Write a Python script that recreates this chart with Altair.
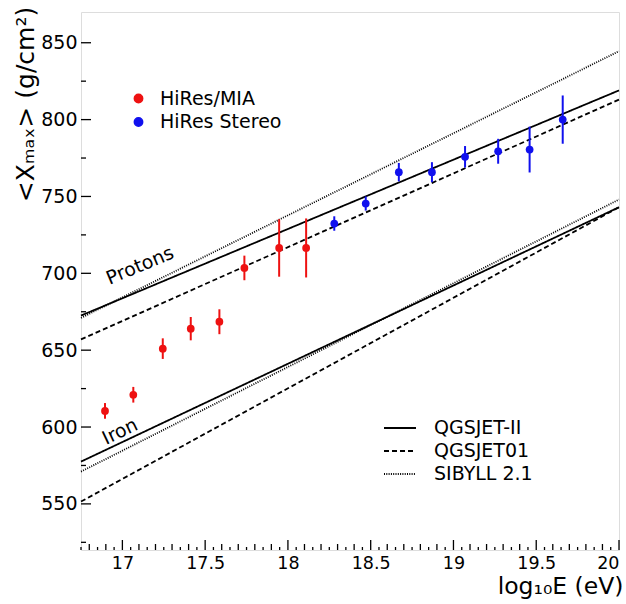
import altair as alt
import pandas as pd

# ---------------- data ----------------
mia_x = [16.895, 17.066, 17.244, 17.413, 17.586, 17.737, 17.947, 18.11]
mia_y = [610.5, 621.0, 651.0, 664.0, 668.5, 703.5, 716.5, 716.5]
mia_err = [5.1, 5.1, 6.7, 7.6, 8.1, 8.0, 18.7, 19.2]

stereo_x = [18.28, 18.47, 18.67, 18.87, 19.07, 19.27, 19.46, 19.66]
stereo_y = [732.4, 745.4, 765.8, 765.8, 775.8, 779.4, 780.5, 800.0]
stereo_err = [4.7, 4.6, 6.0, 6.5, 7.0, 8.1, 14.9, 15.7]

series_names = ["HiRes/MIA", "HiRes Stereo"]
series_colors = ["#ee1111", "#1010ee"]

model_names = ["QGSJET-II", "QGSJET01", "SIBYLL 2.1"]
model_dashes = [[1, 0], [5, 3], [1, 1.3]]
line_x = [16.75, 20.0]
proton_start = [672.5, 657.0, 671.0]
proton_end = [819.0, 813.0, 844.5]
iron_start = [577.5, 551.5, 571.0]
iron_end = [743.0, 743.0, 748.0]

label_text = ["Protons", "Iron"]
label_x = [17.107, 16.986]
label_y = [705.0, 597.0]
label_angle = [337.3, 334.7]

x_major = [17, 17.5, 18, 18.5, 19, 19.5, 20]
x_minor = [round(16.8 + 0.1 * i, 2) for i in range(33) if round(16.8 + 0.1 * i, 2) not in x_major]
x_tiny = [round(16.75 + 0.1 * i, 2) for i in range(33)]
y_major = [550, 600, 650, 700, 750, 800, 850]
y_minor = [525, 575, 625, 675, 725, 775, 825]

FONT = "DejaVu Sans"
W, H = 538, 538

# ---------------- tables ----------------
pts = pd.DataFrame({
    "x": mia_x + stereo_x,
    "y": mia_y + stereo_y,
    "err": mia_err + stereo_err,
    "series": [series_names[0]] * len(mia_x) + [series_names[1]] * len(stereo_x),
})
pts["lo"] = pts["y"] - pts["err"]
pts["hi"] = pts["y"] + pts["err"]

rows = []
for i, m in enumerate(model_names):
    for comp, ys in (("Protons", (proton_start[i], proton_end[i])), ("Iron", (iron_start[i], iron_end[i]))):
        for xv, yv in zip(line_x, ys):
            rows.append({"x": xv, "y": yv, "model": m, "comp": comp})
lines_df = pd.DataFrame(rows)

labels_df = pd.DataFrame({"text": label_text, "x": label_x, "y": label_y, "angle": label_angle})

x_scale = alt.Scale(domain=[16.75, 20], nice=False, zero=False)
y_scale = alt.Scale(domain=[520, 870], nice=False, zero=False)
color_scale = alt.Scale(domain=series_names, range=series_colors)

x_axis = alt.Axis(values=x_major, format="~g", labelFontSize=17.5, labelFont=FONT,
                  labelColor="black", ticks=False, domain=False, grid=False,
                  labelPadding=4, labelFlush=True,
                  title="log\u2081\u2080E (eV)", titleFontSize=23.5, titleFont=FONT,
                  titleFontWeight="normal", titleColor="black",
                  titleAlign="right", titleAnchor="end", titleX=W + 4, titleY=43,
                  titleBaseline="alphabetic")
y_axis = alt.Axis(values=y_major, format="d", labelFontSize=19, labelFont=FONT,
                  labelColor="black", ticks=False, domain=False, grid=False,
                  labelPadding=4,
                  title="<X\u2098\u2090\u2093> (g/cm\u00b2)", titleFontSize=25, titleFont=FONT,
                  titleFontWeight="normal", titleColor="black", titleAngle=270,
                  titleX=-56, titleY=92, titleAlign="center", titleBaseline="middle")

color_legend = alt.Legend(title=None, orient="none", legendX=48, legendY=77,
                          symbolType="circle", symbolSize=70, labelFontSize=19,
                          labelFont=FONT, labelColor="black", labelOffset=12,
                          rowPadding=3.5, padding=0)


def X(field):
    return alt.X(field, scale=x_scale, axis=x_axis)


def Y(field):
    return alt.Y(field, scale=y_scale, axis=y_axis)


lines = alt.Chart(lines_df).mark_line(color="black", strokeWidth=1.8).encode(
    x=X("x:Q"),
    y=Y("y:Q"),
    strokeDash=alt.StrokeDash(
        "model:N",
        scale=alt.Scale(domain=model_names, range=model_dashes),
        legend=alt.Legend(title=None, orient="none", legendX=306, legendY=403,
                          symbolType="M-1.333,0H1.333", symbolSize=576,
                          symbolStrokeWidth=1.8, symbolFillColor="transparent",
                          symbolStrokeColor="black", labelFontSize=19, labelFont=FONT,
                          labelColor="black", labelOffset=21, rowPadding=0, padding=0),
    ),
    detail="comp:N",
)

errbars = alt.Chart(pts).mark_rule(strokeWidth=2).encode(
    x=X("x:Q"),
    y=Y("lo:Q"),
    y2="hi:Q",
    color=alt.Color("series:N", scale=color_scale, legend=color_legend),
)

points = alt.Chart(pts).mark_circle(size=60, opacity=1).encode(
    x=X("x:Q"),
    y=Y("y:Q"),
    color=alt.Color("series:N", scale=color_scale, legend=color_legend),
)

text_layers = []
for i in range(len(label_text)):
    text_layers.append(
        alt.Chart(labels_df.iloc[[i]]).mark_text(
            angle=label_angle[i], fontSize=19, font=FONT, color="black",
            align="center", baseline="middle").encode(
            x=X("x:Q"),
            y=Y("y:Q"),
            text="text:N")
    )


def yticks(vals, length):
    return alt.Chart(pd.DataFrame({"v": vals})).mark_rule(color="black", strokeWidth=1.3).encode(
        y=Y("v:Q"), x=alt.value(0), x2=alt.value(length))


def xticks(vals, length):
    return alt.Chart(pd.DataFrame({"v": vals})).mark_rule(color="black", strokeWidth=1.3).encode(
        x=X("v:Q"), y=alt.value(H), y2=alt.value(H - length))


chart = alt.layer(
    lines, errbars, points, *text_layers,
    yticks(y_major, 10), yticks(y_minor, 5),
    xticks(x_major, 10), xticks(x_minor, 6), xticks(x_tiny, 3),
).properties(
    width=W, height=H,
    autosize=alt.AutoSizeParams(type="none"),
    padding={"left": 81, "top": 12, "right": 7, "bottom": 54},
).configure_view(stroke="black", strokeWidth=1.6).configure(background="white")

chart.save("out.html", embed_options={"renderer": "svg", "actions": False})
